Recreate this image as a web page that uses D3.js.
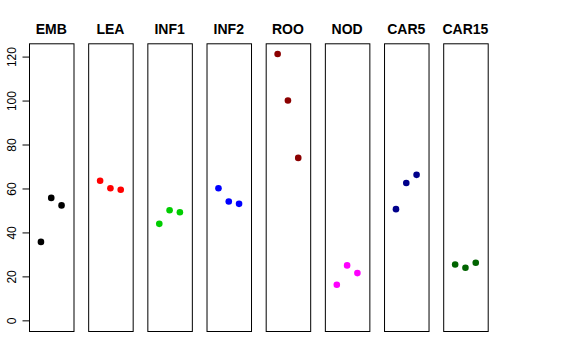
<!DOCTYPE html>
<html>
<head>
<meta charset="utf-8">
<script src="https://cdn.jsdelivr.net/npm/d3@7"></script>
<style>
  body { margin: 0; background: #fff; }
  svg { display: block; font-family: "Liberation Sans", Helvetica, Arial, sans-serif; }
</style>
</head>
<body>
<div id="chart"></div>
<script>
// one panel per tissue, three samples each
const tissues = ["EMB", "LEA", "INF1", "INF2", "ROO", "NOD", "CAR5", "CAR15"]
const colours = ["#000000", "#ff0000", "#00cd00", "#0000ff", "#8b0000", "#ff00ff", "#00008b", "#006400"]
const rep1 = [35.7, 63.5, 43.9, 60.1, 121.2, 16.2, 50.6, 25.4]
const rep2 = [55.7, 60.1, 50.1, 54.1, 100.0, 25.0, 62.5, 23.9]
const rep3 = [52.3, 59.4, 49.2, 53.0, 73.9, 21.5, 66.2, 26.2]
const yTicks = [0, 20, 40, 60, 80, 100, 120]

const width = 576
const height = 360

const svg = d3.select("#chart")
    .append("svg")
    .attr("width", width)
    .attr("height", height)

svg.append("rect")
    .attr("width", width)
    .attr("height", height)
    .attr("fill", "#fff")

const reps = [rep1, rep2, rep3]
const ymax = d3.max(reps.flat())
const ypad = ymax * 0.04

const y = d3.scaleLinear()
    .domain([-ypad, ymax + ypad])
    .range([331, 43.3])

const band = d3.scaleBand()
    .domain(tissues)
    .range([29, 487.7])
    .paddingInner(0.248)

// R style x range: xlim c(0,4) plus 4%
const x = d3.scaleLinear()
    .domain([-0.16, 4.16])
    .range([0, band.bandwidth()])

const panels = svg.selectAll("g.panel")
    .data(tissues)
    .enter()
    .append("g")
    .attr("class", "panel")
    .attr("transform", d => `translate(${band(d)},0)`)

panels.append("rect")
    .attr("x", 0.5)
    .attr("y", y.range()[1] + 0.5)
    .attr("width", band.bandwidth())
    .attr("height", y.range()[0] - y.range()[1])
    .attr("fill", "none")
    .attr("stroke", "#000")
    .attr("stroke-width", 1)

panels.append("text")
    .attr("x", band.bandwidth() / 2)
    .attr("y", 34)
    .attr("text-anchor", "middle")
    .style("font-size", "14px")
    .style("font-weight", "bold")
    .text(d => d)

panels.selectAll("circle")
    .data((d, i) => reps.map((r, j) => ({ x: j + 1, v: r[i], c: colours[i] })))
    .enter()
    .append("circle")
    .attr("cx", d => x(d.x))
    .attr("cy", d => y(d.v))
    .attr("r", 3.3)
    .attr("fill", d => d.c)

// y axis on the first panel
const axis = svg.append("g")
    .attr("transform", `translate(${band(tissues[0]) + 0.5},0)`)
    .call(d3.axisLeft(y).tickValues(yTicks).tickSize(7).tickPadding(0))

axis.select(".domain").remove()
axis.append("line")
    .attr("y1", y(0))
    .attr("y2", y(120))
    .attr("stroke", "#000")

axis.selectAll(".tick line").attr("stroke", "#000")
axis.selectAll(".tick text")
    .attr("x", null)
    .attr("dy", null)
    .attr("transform", "translate(-14,0) rotate(-90)")
    .attr("text-anchor", "middle")
    .attr("fill", "#000")
    .style("font-size", "12px")
    .style("font-family", "Liberation Sans, Helvetica, Arial, sans-serif")
</script>
</body>
</html>
